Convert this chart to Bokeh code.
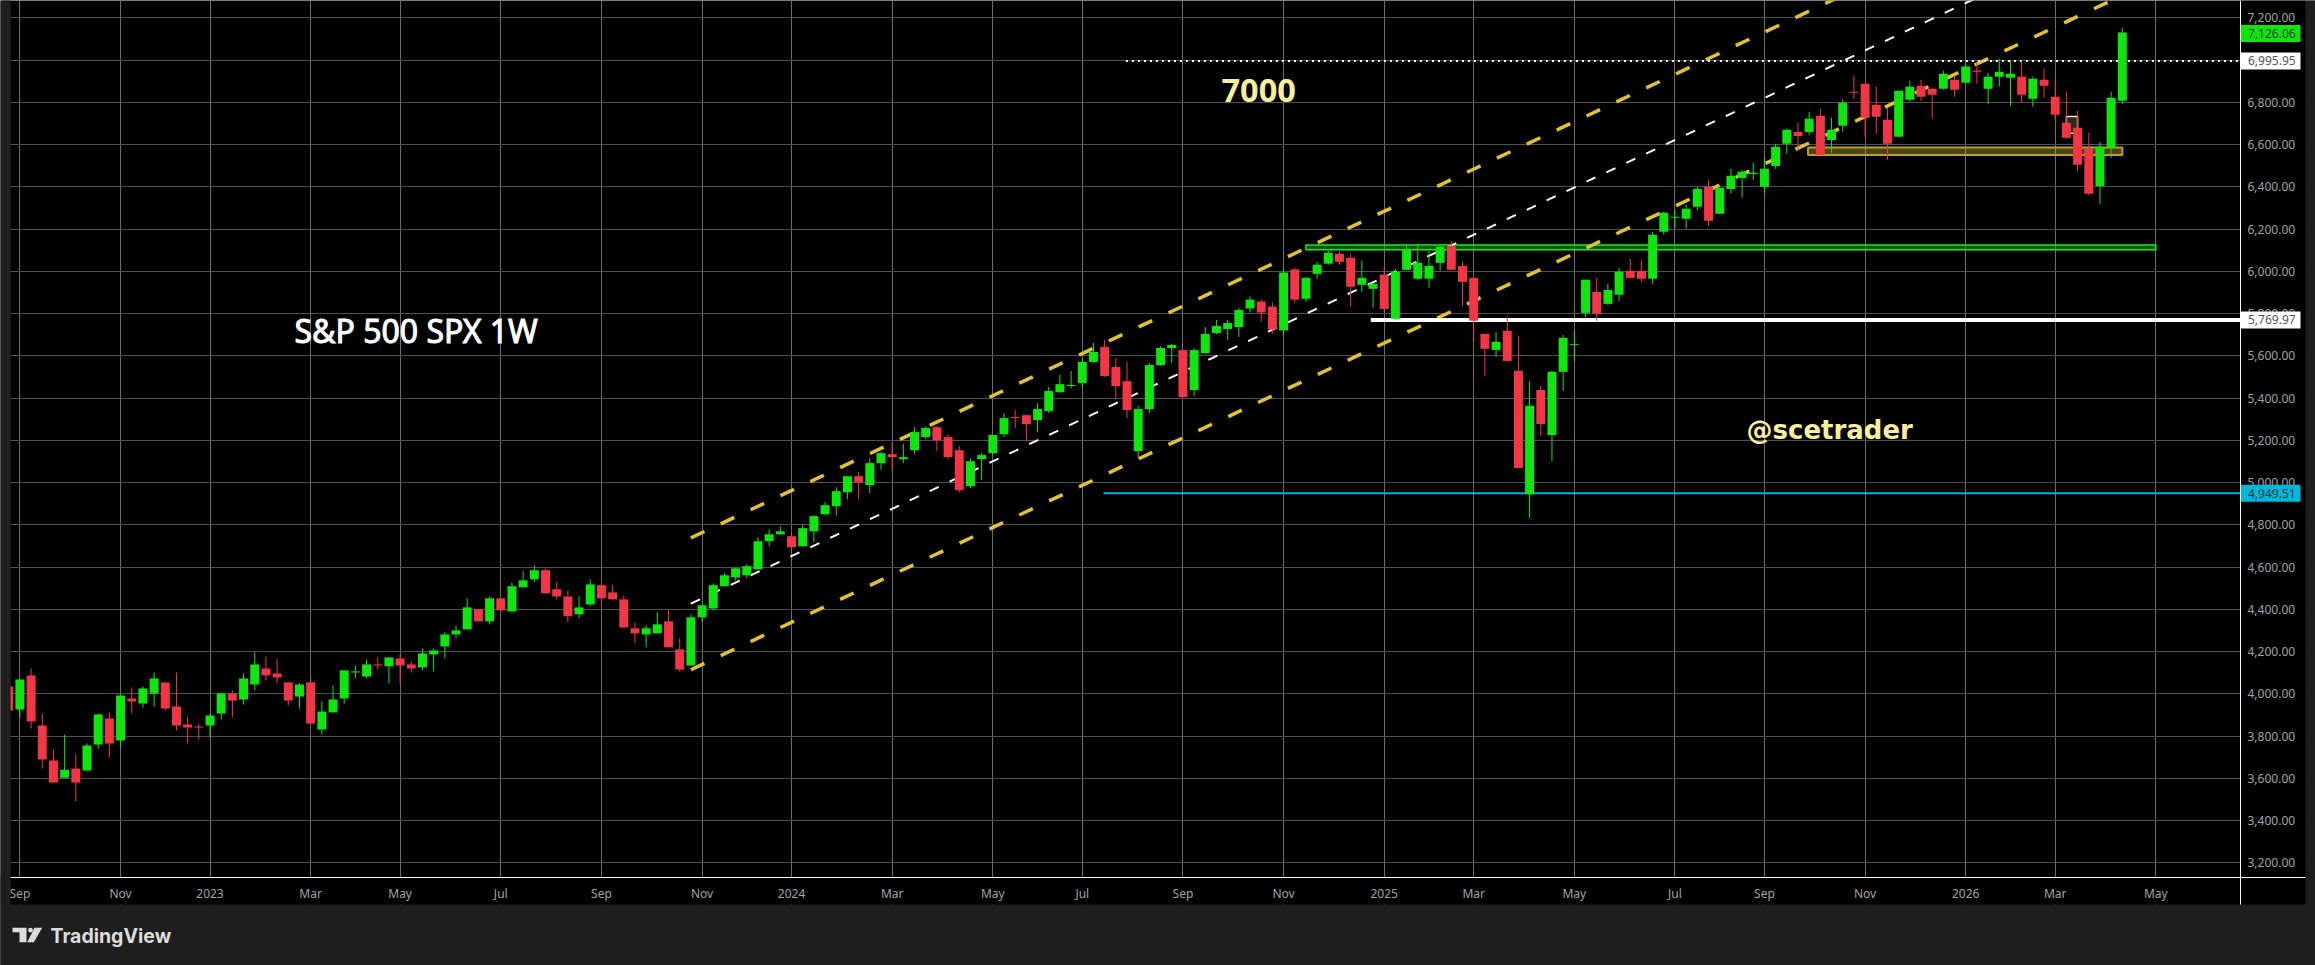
from bokeh.embed import file_html
from bokeh.models import (BoxAnnotation, ColumnDataSource, FixedTicker, Grid, Label, LinearAxis,
                          NumeralTickFormatter, PolyAnnotation)
from bokeh.plotting import figure
from bokeh.resources import INLINE

# Weekly candles, index 0 is the clipped one at the left edge
opens = [4035, 3926, 4087, 3850, 3684, 3603, 3646, 3637, 3760, 3883,
         3779, 3978, 3954, 4002, 4054, 3940, 3855, 3845, 3850, 3907,
         4000, 3973, 4044, 4120, 4096, 4054, 3987, 4054, 3831, 3912,
         3978, 4101, 4082, 4139, 4130, 4167, 4139, 4125, 4186, 4224,
         4281, 4305, 4400, 4343, 4452, 4390, 4504, 4542, 4585, 4495,
         4461, 4376, 4423, 4514, 4480, 4447, 4310, 4281, 4286, 4343,
         4210, 4134, 4362, 4404, 4509, 4551, 4561, 4589, 4722, 4755,
         4746, 4698, 4769, 4850, 4888, 4954, 5030, 4988, 5092, 5134,
         5111, 5153, 5215, 5262, 5215, 5153, 4983, 5111, 5139, 5229,
         5310, 5319, 5296, 5338, 5428, 5457, 5471, 5571, 5642, 5547,
         5480, 5149, 5348, 5556, 5637, 5627, 5438, 5613, 5708, 5727,
         5736, 5824, 5857, 5833, 5720, 6009, 5870, 5988, 6036, 6083,
         6064, 5936, 5917, 5984, 5775, 6007, 5965, 5965, 6040, 6121,
         6026, 5969, 5704, 5628, 5718, 5529, 4945, 5438, 5225, 5524,
         5652, 5803, 5903, 5846, 5889, 6002, 6002, 5965, 6187, 6254,
         6249, 6305, 6400, 6272, 6390, 6442, 6461, 6400, 6499, 6604,
         6660, 6660, 6736, 6622, 6689, 6850, 6888, 6788, 6717, 6637,
         6812, 6878, 6864, 6864, 6907, 6893, 6950, 6864, 6921, 6916,
         6921, 6817, 6907, 6826, 6703, 6679, 6580, 6404, 6585, 6807]
highs = [4063, 4068, 4120, 3907, 3736, 3807, 3712, 3765, 3907, 3912,
         3997, 4030, 4035, 4101, 4054, 4101, 3893, 3859, 3907, 4006,
         4016, 4096, 4196, 4177, 4163, 4054, 4049, 4077, 3964, 4040,
         4111, 4134, 4163, 4172, 4172, 4186, 4153, 4215, 4215, 4291,
         4324, 4452, 4400, 4461, 4452, 4528, 4580, 4608, 4594, 4528,
         4490, 4461, 4542, 4514, 4514, 4466, 4338, 4324, 4386, 4395,
         4262, 4376, 4419, 4523, 4570, 4594, 4613, 4741, 4779, 4793,
         4746, 4803, 4845, 4907, 4978, 5030, 5049, 5115, 5144, 5191,
         5182, 5262, 5267, 5267, 5229, 5172, 5115, 5139, 5225, 5329,
         5343, 5319, 5376, 5452, 5509, 5528, 5590, 5661, 5675, 5589,
         5571, 5362, 5566, 5646, 5656, 5627, 5637, 5736, 5770, 5770,
         5827, 5881, 5866, 5852, 6013, 6018, 5974, 6045, 6097, 6093,
         6083, 6050, 5941, 6021, 6012, 6121, 6121, 6097, 6121, 6145,
         6045, 5969, 5704, 5713, 5784, 5694, 5481, 5457, 5529, 5699,
         5718, 5960, 5969, 5941, 6017, 6059, 6050, 6187, 6282, 6292,
         6315, 6400, 6433, 6395, 6485, 6480, 6514, 6537, 6604, 6675,
         6703, 6755, 6769, 6727, 6812, 6926, 6888, 6874, 6774, 6855,
         6902, 6907, 6864, 6950, 6926, 6983, 6992, 6940, 7006, 6997,
         6997, 6921, 6959, 6907, 6850, 6760, 6656, 6613, 6850, 7153]
lows = [3921, 3889, 3836, 3646, 3580, 3603, 3490, 3637, 3741, 3698,
        3746, 3907, 3935, 3940, 3921, 3826, 3765, 3784, 3793, 3878,
        3888, 3949, 4016, 4063, 4049, 3945, 3930, 3859, 3807, 3912,
        3954, 4073, 4073, 4115, 4049, 4047, 4101, 4111, 4106, 4167,
        4262, 4305, 4343, 4329, 4386, 4390, 4504, 4528, 4476, 4447,
        4338, 4357, 4414, 4433, 4447, 4314, 4239, 4220, 4286, 4220,
        4106, 4134, 4343, 4395, 4509, 4537, 4547, 4589, 4698, 4755,
        4679, 4698, 4717, 4845, 4845, 4921, 4921, 4950, 5059, 5059,
        5092, 5134, 5206, 5149, 5111, 4954, 4973, 5011, 5130, 5215,
        5258, 5196, 5239, 5329, 5424, 5447, 5447, 5566, 5499, 5395,
        5305, 5120, 5329, 5552, 5566, 5405, 5409, 5608, 5703, 5675,
        5689, 5805, 5762, 5705, 5696, 5852, 5856, 5965, 6031, 6031,
        5832, 5903, 5827, 5808, 5770, 6007, 5960, 5922, 6002, 6007,
        5837, 5666, 5505, 5595, 5571, 5069, 4832, 5220, 5102, 5434,
        5576, 5784, 5766, 5841, 5860, 5965, 5950, 5941, 6173, 6202,
        6202, 6290, 6215, 6272, 6367, 6348, 6433, 6362, 6485, 6556,
        6575, 6646, 6551, 6561, 6660, 6817, 6637, 6651, 6528, 6637,
        6803, 6807, 6722, 6860, 6826, 6893, 6888, 6793, 6874, 6784,
        6798, 6779, 6822, 6717, 6627, 6476, 6362, 6319, 6537, 6793]
closes = [3921, 4068, 3869, 3689, 3580, 3641, 3580, 3755, 3902, 3765,
          3992, 3964, 4025, 4073, 3930, 3850, 3840, 3840, 3897, 4002,
          3968, 4073, 4139, 4087, 4077, 3968, 4044, 3859, 3916, 3973,
          4111, 4106, 4139, 4134, 4172, 4134, 4120, 4191, 4205, 4281,
          4300, 4409, 4343, 4452, 4395, 4509, 4537, 4585, 4476, 4461,
          4367, 4409, 4518, 4452, 4447, 4314, 4286, 4310, 4329, 4220,
          4115, 4362, 4419, 4514, 4561, 4594, 4604, 4722, 4755, 4769,
          4694, 4784, 4841, 4893, 4959, 5030, 5002, 5092, 5139, 5120,
          5120, 5239, 5258, 5201, 5120, 4964, 5101, 5130, 5225, 5305,
          5305, 5277, 5348, 5433, 5466, 5462, 5571, 5618, 5504, 5457,
          5343, 5348, 5556, 5637, 5651, 5405, 5627, 5703, 5741, 5755,
          5817, 5866, 5805, 5725, 5994, 5866, 5969, 6031, 6088, 6045,
          5927, 5969, 5941, 5822, 5998, 6102, 6040, 6026, 6116, 6007,
          5950, 5766, 5633, 5666, 5576, 5069, 5363, 5277, 5524, 5685,
          5656, 5960, 5799, 5912, 5998, 5969, 5965, 6173, 6277, 6258,
          6296, 6390, 6239, 6395, 6452, 6471, 6466, 6485, 6589, 6670,
          6641, 6722, 6551, 6670, 6798, 6845, 6727, 6732, 6604, 6855,
          6874, 6826, 6836, 6935, 6860, 6969, 6945, 6921, 6945, 6935,
          6836, 6912, 6878, 6741, 6632, 6504, 6367, 6589, 6822, 7130]

# Month labels, position is the week index
tick_weeks = [1, 10, 18, 27, 35, 44, 53, 62, 70, 79, 88, 96, 105, 114, 123,
              131, 140, 149, 157, 166, 175, 183, 192]
tick_names = ["Sep", "Nov", "2023", "Mar", "May", "Jul", "Sep", "Nov", "2024",
              "Mar", "May", "Jul", "Sep", "Nov", "2025", "Mar", "May", "Jul",
              "Sep", "Nov", "2026", "Mar", "May"]
price_ticks = [3200, 3400, 3600, 3800, 4000, 4200, 4400, 4600, 4800, 5000, 5200,
               5400, 5600, 5800, 6000, 6200, 6400, 6600, 6800, 7000, 7200]

# Trend channel drawn on the chart
channel_weeks = [61, 190]
channel_upper = [4738, 7955]
channel_mid = [4427, 7644]
channel_lower = [4114, 7331]

# Horizontal levels
last_price = 7126.06
level_7000 = 6995.95
level_white = 5769.97
level_cyan = 4949.51

GREEN = "#0ee60e"
RED = "#f23645"
YELLOW = "#e2c22f"
SAND = "#f9ef9a"
PANEL = "#1e1e1e"
LOGO = "#dcdcdc"
WIDTH = 2315
HEIGHT = 965


def wk(px):
    # canvas pixel to week index
    return 1 + (px - 19.4) / 11.183


def pr(py):
    # canvas pixel to price
    return 7200 - (py - 17.3) / 0.21125


AXIS_X = wk(2240)
AXIS_Y = pr(877.3)

p = figure(width=WIDTH, height=HEIGHT, output_backend="svg", toolbar_location=None, tools="",
           x_range=(wk(0), wk(WIDTH)), y_range=(pr(HEIGHT), pr(0)),
           x_axis_location=None, y_axis_location=None,
           min_border_left=0, min_border_right=0, min_border_top=0, min_border_bottom=0,
           background_fill_color="#000000", border_fill_color=PANEL)
p.outline_line_color = None
p.grid.visible = False

# Grid first, the grey panels go over its ends
p.add_layout(Grid(dimension=0, ticker=FixedTicker(ticks=tick_weeks), grid_line_color="#6e6e6e"))
p.add_layout(Grid(dimension=1, ticker=FixedTicker(ticks=price_ticks), grid_line_color="#505050"))


def panel(left, right, top, bottom, color=PANEL, level="underlay", **kw):
    return BoxAnnotation(left=wk(left), right=wk(right), top=pr(top), bottom=pr(bottom), fill_color=color,
                         fill_alpha=1, line_color=None, level=level, **kw)


p.add_layout(panel(2240, 2305, 0, 904, color="#000000"))
p.add_layout(panel(0, 2240, 877, 904, color="#000000"))
p.add_layout(panel(0, WIDTH, 904, HEIGHT))
p.add_layout(panel(0, 10, 0, HEIGHT))
p.add_layout(panel(2305, WIDTH, 0, HEIGHT))

# Axes sit inside the full-canvas frame
xaxis = LinearAxis(fixed_location=AXIS_Y, bounds=(wk(10), wk(2305)), ticker=FixedTicker(ticks=tick_weeks),
                   major_label_overrides=dict(zip(tick_weeks, tick_names)))
yaxis = LinearAxis(fixed_location=AXIS_X, bounds=(pr(904), pr(0)), ticker=FixedTicker(ticks=price_ticks),
                   formatter=NumeralTickFormatter(format="0,0.00"))
for ax in [xaxis, yaxis]:
    ax.axis_line_color = "#ffffff"
    ax.axis_line_width = 1
    ax.major_tick_line_color = None
    ax.minor_tick_line_color = None
    ax.major_tick_out = 0
    ax.major_label_text_color = "#a3a3a3"
    ax.major_label_text_font = "Noto Sans"
    ax.major_label_text_font_size = "12px"
    ax.major_label_standoff = 7
p.add_layout(xaxis, "below")
p.add_layout(yaxis, "right")

# Zones under the candles
p.quad(left=[116.0], right=[192.0], top=[6125], bottom=[6102],
       fill_color="#17a317", fill_alpha=0.5, line_color="#1ee81e", line_width=1.5)
p.quad(left=[160.9], right=[189.0], top=[6586], bottom=[6550],
       fill_color=YELLOW, fill_alpha=0.35, line_color="#b89f2e", line_width=2)
p.quad(left=[184.0], right=[185.0], top=[6733], bottom=[6653],
       fill_color="#2a2a1a", line_color="#fbeec2", line_width=1.5)

# Channel
p.line(channel_weeks, channel_upper, line_color=YELLOW, line_width=3.5, line_dash="15 18")
p.line(channel_weeks, channel_lower, line_color=YELLOW, line_width=3.5, line_dash="15 18")
p.line(channel_weeks, channel_mid, line_color="#ffffff", line_width=2, line_dash="10 12")

# Levels run on to the price axis
p.line([99.9, AXIS_X], [level_7000, level_7000], line_color="#ffffff", line_width=2, line_dash="2 4")
p.line([121.8, AXIS_X], [level_white, level_white], line_color="#ffffff", line_width=4)
p.line([97.9, AXIS_X], [level_cyan, level_cyan], line_color="#00b8d9", line_width=2)

# Candles
weeks = list(range(len(opens)))
colors = [GREEN if c >= o else RED for o, c in zip(opens, closes)]
source = ColumnDataSource(data=dict(
    week=weeks,
    high=highs,
    low=lows,
    top=[max(o, c) for o, c in zip(opens, closes)],
    bottom=[min(o, c) for o, c in zip(opens, closes)],
    color=colors,
))
p.segment(x0="week", y0="low", x1="week", y1="high", line_color="color", line_width=1, source=source)
p.vbar(x="week", top="top", bottom="bottom", width=0.8, fill_color="color", line_color=None, source=source)

# Left edge panel again over the clipped candle
p.add_layout(panel(0, 10, 0, HEIGHT, level="annotation"))

# Written notes
p.add_layout(Label(x=wk(294), y=pr(330.2), text="S&P 500 SPX 1W", text_color="#ffffff", text_font="Noto Sans",
                   text_font_size="32px", text_outline_color="#ffffff", text_baseline="alphabetic"))
p.add_layout(Label(x=wk(1221), y=pr(89.5), text="7000", text_color=SAND, text_font="Noto Sans",
                   text_font_size="32.5px", text_font_style="bold", text_baseline="alphabetic"))
p.add_layout(Label(x=wk(1746), y=pr(429.5), text="@scetrader", text_color=SAND, text_font="DejaVu Sans",
                   text_font_size="26px", text_font_style="bold", text_baseline="alphabetic"))

# TradingView mark in the footer
p.add_layout(panel(12, 26, 927.3, 931.7, color=LOGO, level="annotation"))
p.add_layout(panel(19, 26, 931, 941.7, color=LOGO, level="annotation"))
p.add_layout(panel(27.6, 32.4, 927.3, 932.1, color=LOGO, level="annotation", border_radius=3))
p.add_layout(PolyAnnotation(xs=[wk(34), wk(41.7), wk(33.3), wk(26.7)],
                            ys=[pr(927.3), pr(927.3), pr(941.7), pr(941.7)],
                            fill_color=LOGO, fill_alpha=1, line_color=None))
p.add_layout(Label(x=wk(50), y=pr(935.6), text="TradingView", text_color=LOGO, text_font="Inter",
                   text_font_size="19.5px", text_font_style="bold", text_baseline="alphabetic"))

# Price tags on the axis, a box then the text over it
for price, bg, fg in [(last_price, GREEN, "#3c3c3c"), (level_7000, "#ffffff", "#555555"),
                      (level_white, "#ffffff", "#555555"), (level_cyan, "#00b8d9", "#1b3a44")]:
    tag_y = 17.3 + (7200 - price) * 0.21125
    p.add_layout(panel(2240.5, 2300, tag_y - 8.5, tag_y + 8.5, color=bg, level="annotation"))
    p.add_layout(Label(x=wk(2247.5), y=price, text=f"{price:,.2f}", text_align="left", text_baseline="middle",
                       text_color=fg, text_font="Noto Sans", text_font_size="12px"))

open("out.html", "w").write(file_html(p, INLINE))
